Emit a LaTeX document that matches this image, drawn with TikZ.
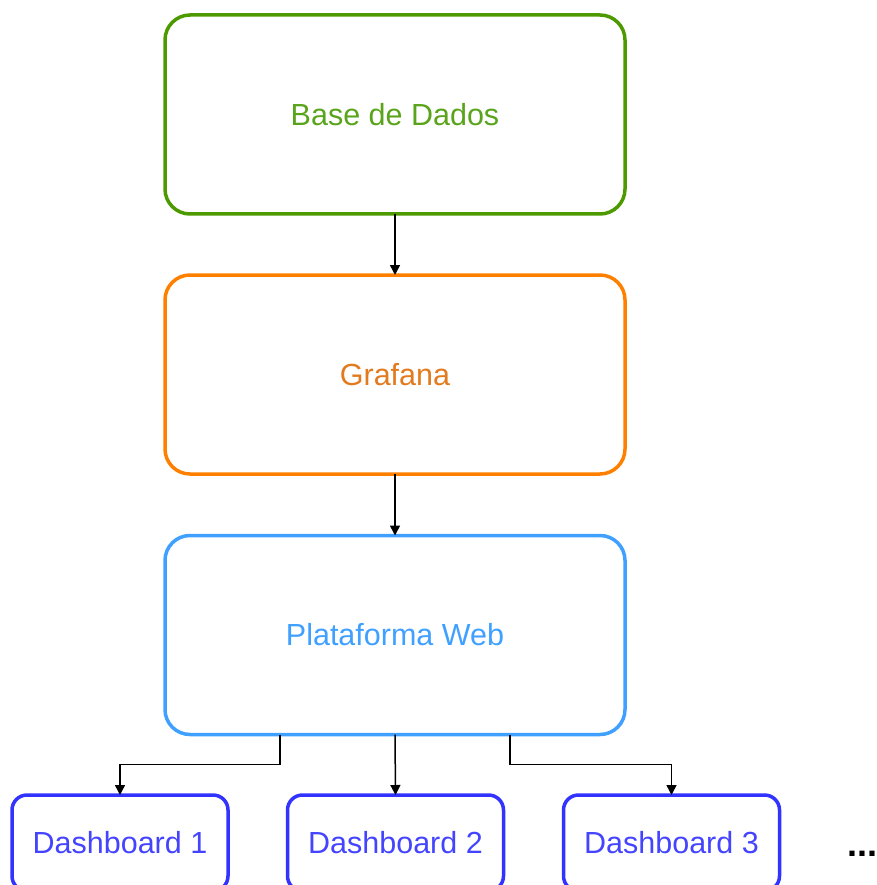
\documentclass[tikz,border=0pt]{standalone}
\usepackage{fontspec}
\setmainfont{Liberation Sans}
\usetikzlibrary{arrows.meta}
\definecolor{cgreen}{HTML}{4D9900}
\definecolor{cgreentxt}{HTML}{5AA41C}
\definecolor{corange}{HTML}{FF8000}
\definecolor{corangetxt}{HTML}{E27A1E}
\definecolor{cblue}{HTML}{3FA0FF}
\definecolor{cdash}{HTML}{3333FF}
\definecolor{cdashtxt}{HTML}{4444FF}
\begin{document}
\begin{tikzpicture}[x=1pt,y=-1pt,
  bigbox/.style={draw, line width=3.5pt, rounded corners=25pt, minimum width=460pt, minimum height=199pt, inner sep=0pt, outer sep=0pt, font=\fontsize{30.5}{36}\selectfont},
  dashbox/.style={draw=cdash, text=cdashtxt, line width=3.5pt, rounded corners=15pt, minimum width=216pt, minimum height=96pt, inner sep=0pt, outer sep=0pt, font=\fontsize{30.5}{36}\selectfont},
  arr/.style={draw=black, line width=1.5pt, -{Triangle[length=10pt,width=10pt]}}]
\useasboundingbox (0,0) rectangle (876,885);
\node[bigbox, draw=cgreen, text=cgreentxt] (db) at (395,114.5) {Base de Dados};
\node[bigbox, draw=corange, text=corangetxt] (gf) at (395,374.5) {Grafana};
\node[bigbox, draw=cblue, text=cblue] (pw) at (395,635) {Plataforma Web};
\node[dashbox] (d1) at (120,843) {Dashboard 1};
\node[dashbox] (d2) at (395.5,843) {Dashboard 2};
\node[dashbox] (d3) at (671.5,843) {Dashboard 3};
\node[font=\fontsize{36}{40}\selectfont\bfseries, inner sep=0pt, anchor=base] (more) at (862,856) {...};
\draw[arr] (db.south) -- (gf.north);
\draw[arr] (gf.south) -- (pw.north);
\draw[arr] (pw.south) -- (d2.north);
\draw[arr] ([xshift=-115pt]pw.south) -- ++(0,-30pt) -| (d1.north);
\draw[arr] ([xshift=115pt]pw.south) -- ++(0,-30pt) -| (d3.north);
\end{tikzpicture}
\end{document}
